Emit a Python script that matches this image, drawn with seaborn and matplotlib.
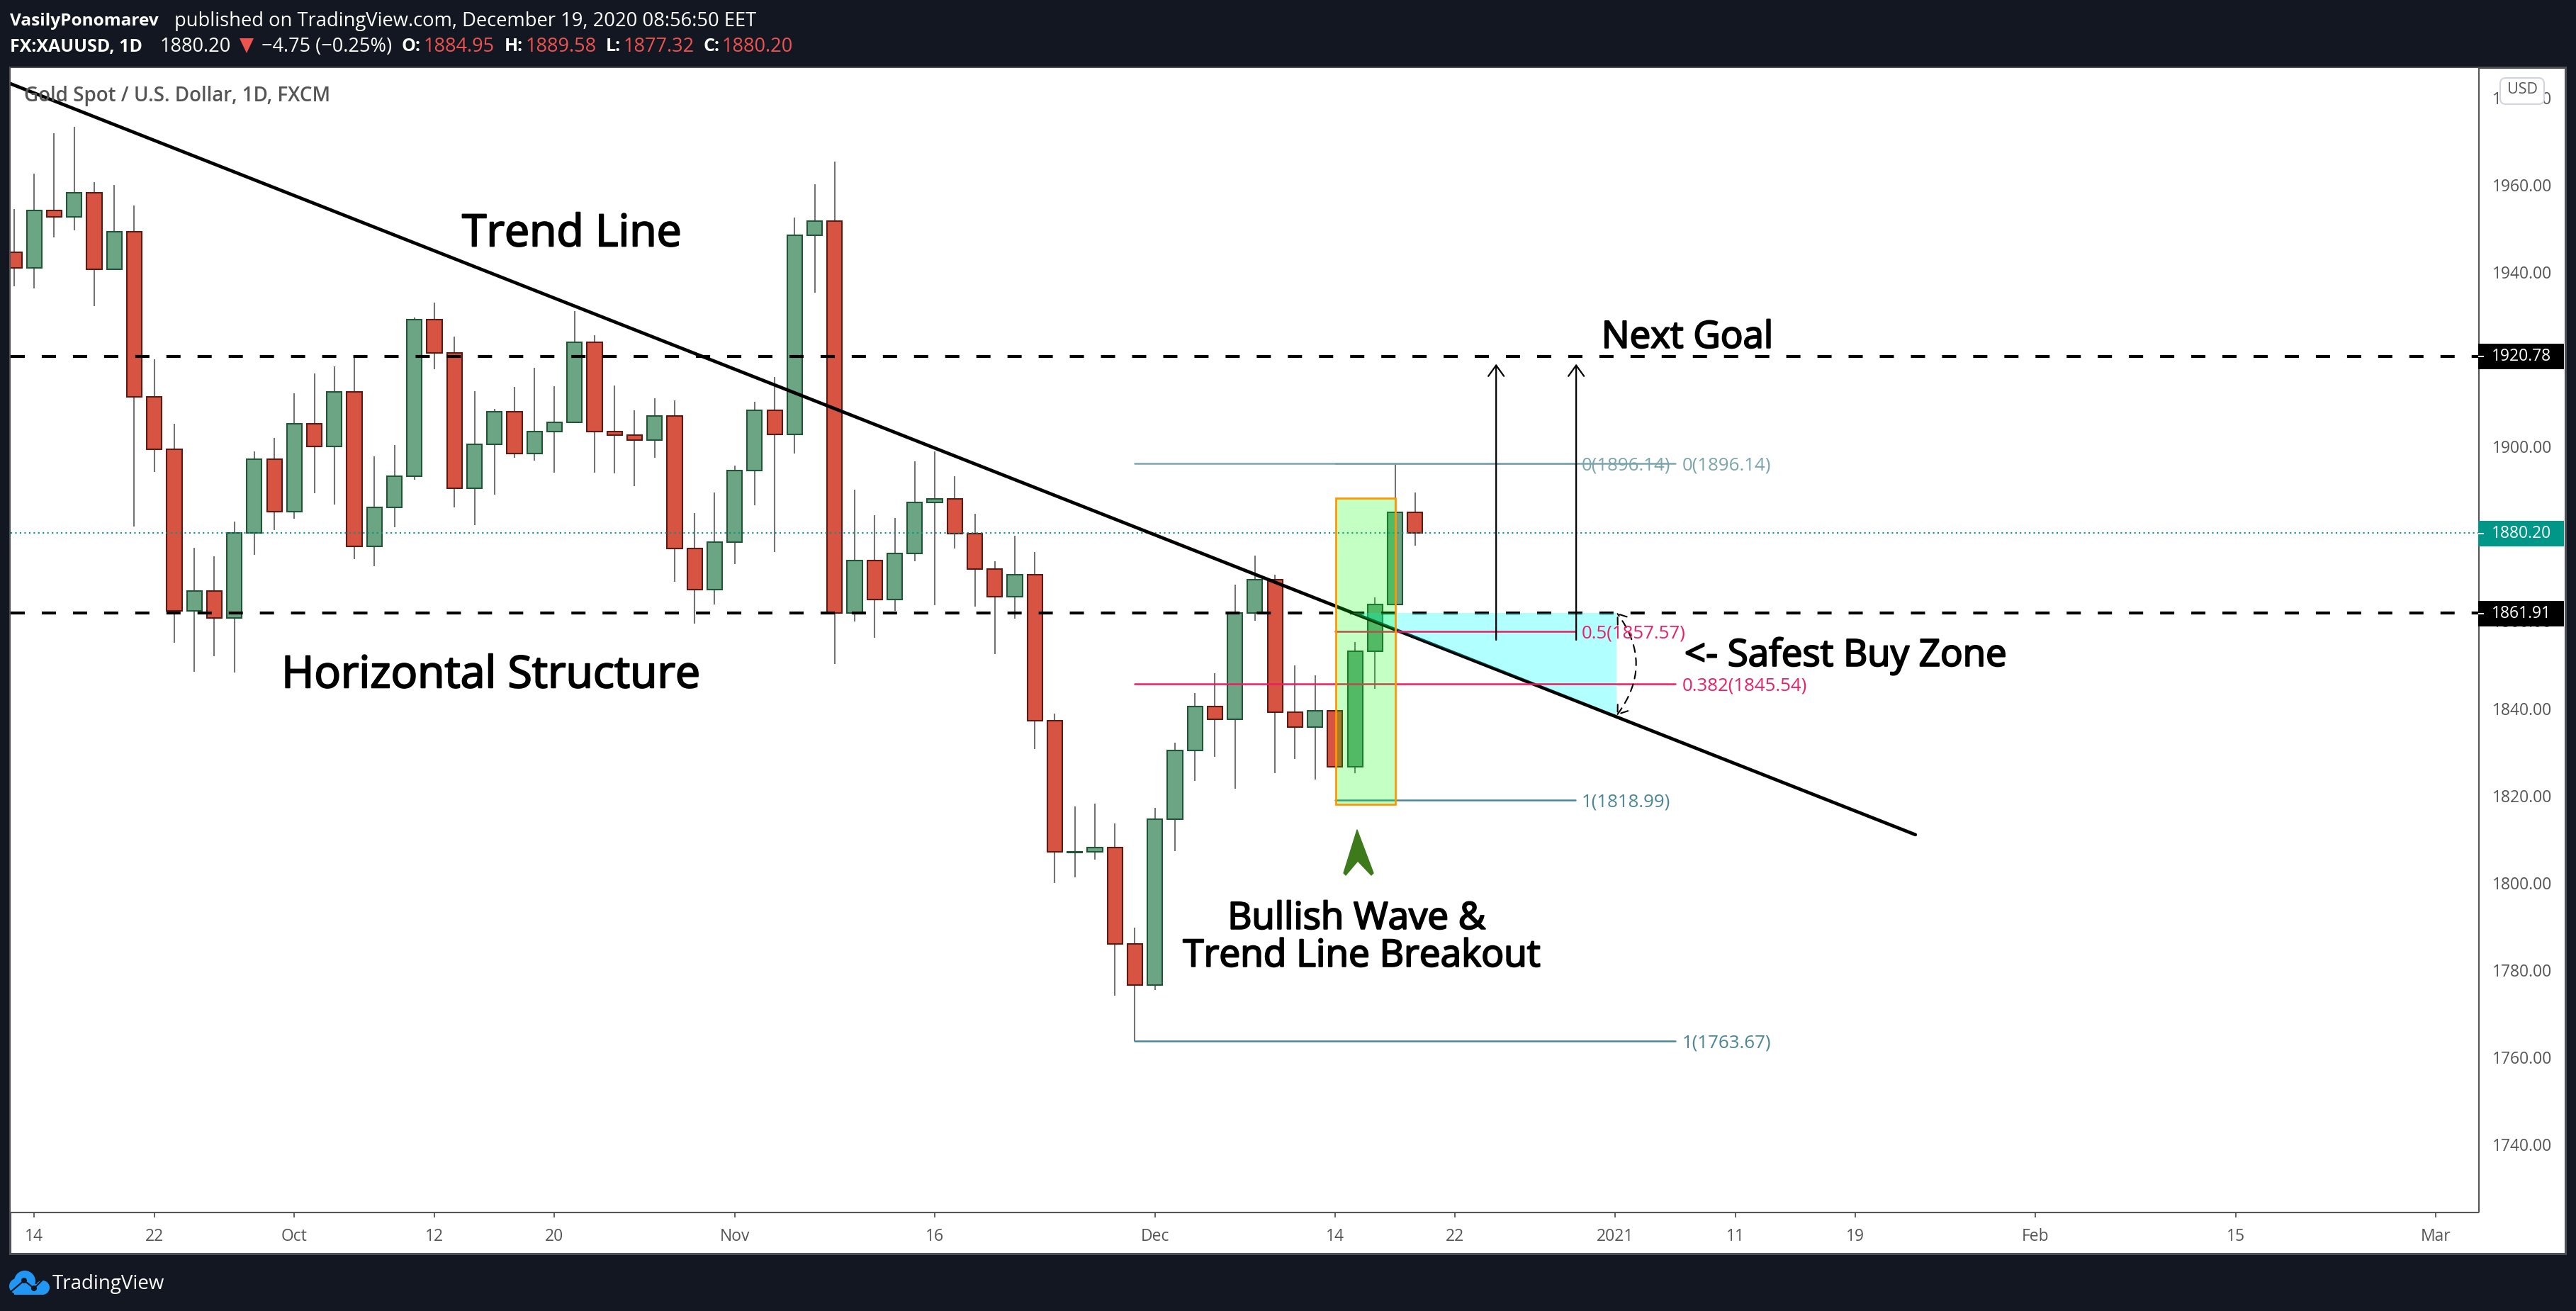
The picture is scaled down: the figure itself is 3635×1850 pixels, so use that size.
import numpy as np
import pandas as pd
import seaborn as sns
import matplotlib.pyplot as plt
from matplotlib.patches import Rectangle, Polygon, Circle, FancyBboxPatch
import matplotlib.patheffects as pe

# daily candles
opens = [1944.7, 1941.1, 1954.3, 1952.8, 1958.3, 1940.8, 1949.4, 1911.4, 1899.5, 1862.4,
         1866.9, 1860.8, 1880.3, 1897.2, 1885.2, 1905.2, 1900.0, 1912.6, 1877.2, 1886.1,
         1893.2, 1929.2, 1921.6, 1890.5, 1900.6, 1908.1, 1898.5, 1903.5, 1905.6, 1923.9,
         1903.5, 1902.6, 1901.6, 1907.1, 1876.7, 1867.3, 1878.2, 1894.6, 1908.4, 1902.9,
         1948.6, 1951.7, 1861.9, 1873.9, 1865.0, 1875.6, 1887.3, 1888.1, 1880.0, 1871.9,
         1865.6, 1870.7, 1837.1, 1806.9, 1807.0, 1808.1, 1786.0, 1776.5, 1814.6, 1830.3,
         1840.4, 1837.4, 1861.9, 1869.5, 1839.1, 1835.7, 1839.5, 1826.6, 1853.1, 1863.9,
         1884.95]
highs = [1954.6, 1962.6, 1972.0, 1973.4, 1960.8, 1960.0, 1955.4, 1920.0, 1905.3, 1876.9,
         1874.9, 1882.9, 1899.0, 1902.1, 1912.2, 1916.9, 1918.5, 1920.6, 1897.8, 1900.4,
         1929.7, 1933.1, 1925.3, 1912.8, 1908.7, 1913.8, 1918.2, 1913.9, 1931.2, 1925.6,
         1914.1, 1908.4, 1911.2, 1910.7, 1884.8, 1889.5, 1895.7, 1910.4, 1916.0, 1952.6,
         1960.3, 1965.5, 1890.2, 1884.3, 1883.7, 1896.7, 1899.0, 1893.3, 1884.7, 1873.8,
         1879.6, 1875.9, 1838.8, 1817.5, 1818.2, 1813.6, 1789.6, 1817.2, 1832.1, 1843.5,
         1848.1, 1868.4, 1875.1, 1870.7, 1849.9, 1847.6, 1839.5, 1855.2, 1865.5, 1896.14,
         1889.58]
lows = [1936.9, 1936.4, 1948.1, 1949.6, 1932.3, 1940.8, 1881.7, 1894.3, 1855.1, 1848.4,
        1852.0, 1848.2, 1875.2, 1880.9, 1883.5, 1889.4, 1886.8, 1874.3, 1872.6, 1881.6,
        1892.5, 1917.8, 1886.1, 1882.1, 1889.1, 1897.5, 1896.9, 1894.1, 1905.6, 1894.1,
        1893.9, 1891.0, 1897.5, 1869.1, 1859.5, 1863.9, 1873.1, 1886.6, 1875.9, 1898.5,
        1935.4, 1850.2, 1859.9, 1856.1, 1862.4, 1873.8, 1863.6, 1876.6, 1863.4, 1852.4,
        1860.5, 1830.6, 1800.0, 1801.3, 1805.3, 1774.0, 1763.67, 1775.4, 1807.2, 1823.4,
        1828.8, 1821.6, 1860.0, 1825.1, 1828.4, 1823.7, 1826.6, 1825.2, 1844.4, 1863.9,
        1877.32]
closes = [1941.1, 1954.3, 1952.8, 1958.3, 1940.8, 1949.4, 1911.5, 1899.5, 1862.4, 1866.9,
          1860.8, 1880.3, 1897.2, 1885.2, 1905.2, 1900.0, 1912.6, 1877.2, 1886.1, 1893.2,
          1929.2, 1921.6, 1890.5, 1900.6, 1908.1, 1898.5, 1903.5, 1905.6, 1923.9, 1903.5,
          1902.6, 1901.6, 1907.1, 1876.7, 1867.3, 1878.2, 1894.6, 1908.4, 1902.9, 1948.6,
          1951.7, 1861.9, 1873.9, 1865.0, 1875.6, 1887.3, 1888.1, 1880.0, 1871.9, 1865.6,
          1870.7, 1837.2, 1807.0, 1807.0, 1808.1, 1786.0, 1776.5, 1814.6, 1830.3, 1840.4,
          1837.4, 1861.9, 1869.5, 1839.1, 1835.7, 1839.5, 1826.6, 1853.1, 1863.9, 1884.9,
          1880.20]

date_pos = [1, 7, 14, 21, 27, 36, 46, 57, 66, 72, 80, 86, 92, 101, 111, 121]
date_labels = ['14', '22', 'Oct', '12', '20', 'Nov', '16', 'Dec', '14', '22', '2021', '11', '19', 'Feb', '15', 'Mar']
price_ticks = [1980, 1960, 1940, 1920, 1900, 1880, 1860, 1840, 1820, 1800, 1780, 1760, 1740]

level_high = 1920.78
level_low = 1861.91
last_price = 1880.20

# trend line end points (bar index, price)
trend_x = [-0.18, 95.0]
trend_y = [1983.3, 1811.0]

# fib tools: bar range and levels
fib1_range = [56, 83]
fib1_levels = [(0, 1896.14, '#7aa5ae'), (0.382, 1845.54, '#e91e63'), (1, 1763.67, '#4a8696')]
fib2_range = [66, 78]
fib2_levels = [(0, 1896.14, '#7aa5ae'), (0.5, 1857.57, '#e91e63'), (1, 1818.99, '#4a8696')]

W, H = 3635, 1850
DARK = '#131722'
GREY = '#555555'
FONT = 'Open Sans'

sns.set_theme(style='white')
plt.rcParams['font.family'] = [FONT, 'DejaVu Sans']


def box(l, t, r, b):
    return [l / W, 1 - b / H, (r - l) / W, (b - t) / H]


fig = plt.figure(figsize=(W / 100, H / 100), dpi=100, facecolor=DARK)

# pixel axes behind and in front of the chart, for the frame and the header
back = fig.add_axes([0, 0, 1, 1], zorder=0)
front = fig.add_axes([0, 0, 1, 1], zorder=2)
for a in (back, front):
    a.set_xlim(0, W)
    a.set_ylim(H, 0)
    a.axis('off')
back.add_patch(Rectangle((14, 95), 3606, 1674, fc='white', ec='#4d4f55', lw=2.2))

ax = fig.add_axes(box(15, 96, 3497.5, 1710.5), zorder=1)
ax.set_facecolor('white')

df = pd.DataFrame({'i': range(len(opens)), 'o': opens, 'h': highs, 'l': lows, 'c': closes})
df['low_side'] = df[['o', 'c']].min(axis=1)
df['size'] = (df['o'] - df['c']).abs()
up = df[df['c'] >= df['o']]
down = df[df['c'] < df['o']]

ax.vlines(df['i'], df['l'], df['h'], color='#737375', lw=1.5, zorder=1)
for part, fill, edge in [(up, '#6ba583', '#225437'), (down, '#d75442', '#5b1a13')]:
    sns.barplot(data=part, x='i', y='size', bottom=part['low_side'].values, native_scale=True,
                errorbar=None, color=fill, saturation=1, edgecolor=edge, linewidth=1.5,
                width=0.75, ax=ax, zorder=2)


def draw_line(xs, ys, **kw):
    sns.lineplot(x=xs, y=ys, ax=ax, errorbar=None, sort=False, legend=False, **kw)


# horizontal levels and the trend line
right_end = 123.2
for lvl in (level_high, level_low):
    draw_line([-0.18, right_end], [lvl, lvl], color='black', linewidth=3.0,
              linestyle=(0, (4.8, 5.75)), zorder=3)
draw_line([-0.18, right_end], [last_price, last_price], color='#009688', linewidth=1.5,
          linestyle=(0, (1, 2.1)), zorder=3)
draw_line(trend_x, trend_y, color='black', linewidth=3.4, zorder=4)

# safest buy zone
ax.fill([66.9, 80.08, 80.08], [level_low, level_low, 1838.4], color='#00ffff', alpha=0.3, lw=0, zorder=5)

# fib lines
for rng, levels in ((fib1_range, fib1_levels), (fib2_range, fib2_levels)):
    for ratio, price, col in levels:
        draw_line(rng, [price, price], color=col, linewidth=1.8, zorder=6)
        ax.annotate(f'{ratio}({price:.2f})', xy=(rng[1] + 0.33, price), xytext=(0, -2.2),
                    textcoords='offset points', color=col, fontsize=18.6,
                    va='center', ha='left', zorder=9)

# breakout box
ax.add_patch(Rectangle((66.04, 1818.0), 2.99, 70.24, fc=(0, 1, 0, 0.23), ec='none', zorder=7))
ax.add_patch(Rectangle((66.04, 1818.0), 2.99, 70.24, fc='none', ec='#ff9800', lw=2.0, zorder=7.5))

# target arrows
for xpos in (74.05, 78.05):
    ax.annotate('', xy=(xpos, 1919.0), xytext=(xpos, 1855.7),
                arrowprops=dict(arrowstyle='->,head_length=0.5,head_width=0.36', color='black', lw=1.6,
                                shrinkA=0, shrinkB=0, mutation_scale=22), zorder=8)
ax.annotate('', xy=(80.08, level_low), xytext=(80.08, 1838.4),
            arrowprops=dict(arrowstyle='<->,head_length=0.5,head_width=0.36', color='black', lw=1.5,
                            linestyle=(0, (5, 4)), connectionstyle='arc3,rad=0.37',
                            shrinkA=0, shrinkB=0, mutation_scale=18), zorder=8)

# axes
ax.set_xticks(date_pos, date_labels)
ax.set_yticks(price_ticks, [f'{p:.2f}' for p in price_ticks])
ax.yaxis.tick_right()
ax.set_xlabel('')
ax.set_ylabel('')
ax.set_xlim(-0.177, 123.14)
ax.set_ylim(1724.4, 1986.9)
ax.grid(False)
ax.tick_params(axis='x', length=5, width=1.3, color=GREY, labelcolor=GREY, labelsize=16.5, pad=11, bottom=True)
ax.tick_params(axis='y', length=7, width=1.3, color=GREY, labelcolor=GREY, labelsize=16.5, pad=7, right=True)
sns.despine(ax=ax, top=True, left=True, right=False, bottom=False)
for s in ('right', 'bottom'):
    ax.spines[s].set_color(GREY)
    ax.spines[s].set_linewidth(1.5)

# USD button
front.add_patch(FancyBboxPatch((3531, 113), 56, 31, boxstyle='round,pad=3,rounding_size=8',
                               fc='white', ec='#d1d4dc', lw=1.5))
front.text(3559, 127, 'USD', color=GREY, fontsize=15.5, ha='center', va='center')

# price tags
for y, col, label in ((503, 'black', '1920.78'), (753, '#009688', '1880.20'), (866, 'black', '1861.91')):
    front.add_patch(Rectangle((3497, y - 18), 121, 36, fc=col, ec='none'))
    front.plot([3497, 3505], [y, y], color='white', lw=1.3, solid_capstyle='butt')
    front.text(3516, y, label, color='white', fontsize=16.5, va='center', ha='left')

# drawn labels
note = [pe.withStroke(linewidth=1.5, foreground='black')]
notes = [('Trend Line', 807, 331, 45),
         ('Horizontal Structure', 693, 954, 45),
         ('Next Goal', 2381, 477, 38),
         ('<- Safest Buy Zone', 2604, 926, 38),
         ('Bullish Wave &', 1914, 1297, 38),
         ('Trend Line Breakout', 1922, 1350, 38.3)]
for txt, x, y, size in notes:
    front.text(x, y, txt, color='black', fontsize=size, ha='center', va='center', path_effects=note)

front.add_patch(Polygon([(1915, 1171), (1938, 1232), (1935, 1235), (1916, 1215), (1899, 1235), (1896, 1232)],
                        fc='#3c7a1c', ec='#3c7a1c', lw=1, joinstyle='round'))

front.text(34, 135, 'Gold Spot / U.S. Dollar, 1D, FXCM', color=GREY, fontsize=20, fontweight='semibold',
           va='center', ha='left')

# header
head1 = [('VasilyPonomarev', 14, 'white', 'bold', 17.6),
         ('published on TradingView.com, December 19, 2020 08:56:50 EET', 246, 'white', 'normal', 19.7)]
head2 = [('FX:XAUUSD, 1D', 14, 'white', 'bold', 18), ('1880.20', 226, 'white', 'normal', 19.5),
         ('\u22124.75 (\u22120.25%)', 369, 'white', 'normal', 19.5),
         ('O:', 566, 'white', 'bold', 18), ('1884.95', 598, '#ef5350', 'normal', 19.5),
         ('H:', 712, 'white', 'bold', 18), ('1889.58', 742, '#ef5350', 'normal', 19.5),
         ('L:', 855, 'white', 'bold', 18), ('1877.32', 880, '#ef5350', 'normal', 19.5),
         ('C:', 992, 'white', 'bold', 18), ('1880.20', 1019, '#ef5350', 'normal', 19.5)]
for txt, x, col, wt, size in head1:
    front.text(x, 30, txt, color=col, fontsize=size, fontweight=wt, va='center', ha='left')
for txt, x, col, wt, size in head2:
    front.text(x, 66, txt, color=col, fontsize=size, fontweight=wt, va='center', ha='left')
front.add_patch(Polygon([(338, 54), (358, 54), (348, 75)], fc='#ef5350', ec='none'))

# TradingView logo
logo = '#2196f3'
for cx, cy, r in ((24, 1815, 11), (35, 1808, 15), (60, 1817, 10)):
    front.add_patch(Circle((cx, cy), r, fc=logo, ec='none'))
front.add_patch(Rectangle((20, 1812), 42, 15, fc=logo, ec='none'))
front.plot([15, 34, 48, 62], [1823, 1807, 1818, 1804], color=DARK, lw=1.6)
for cx, cy in ((34, 1807), (48, 1818)):
    front.add_patch(Circle((cx, cy), 4, fc=DARK, ec='none'))
front.text(74, 1812, 'TradingView', color='white', fontsize=20, va='center', ha='left')

fig.savefig('out.png', dpi=100, facecolor=DARK)
